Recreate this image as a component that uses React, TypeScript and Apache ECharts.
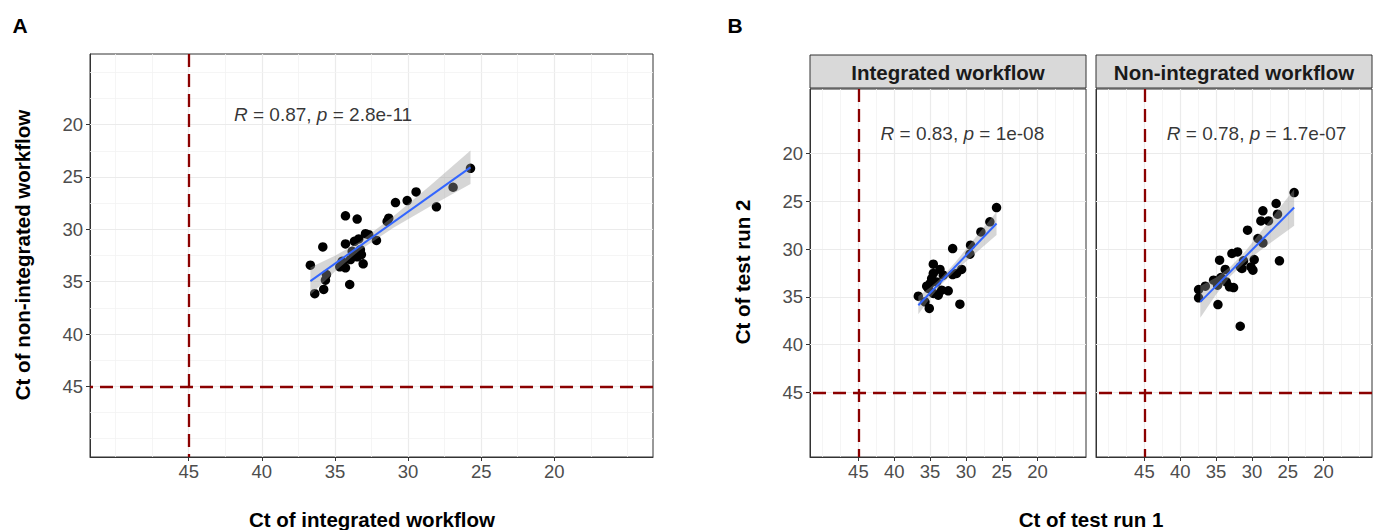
import React, { useEffect, useRef } from 'react';
import * as echarts from 'echarts';

// ---------- data ----------
const tickValues = [20, 25, 30, 35, 40, 45];
const majorGrid = [20, 25, 30, 35, 40, 45];
const minorGrid = [15, 17.5, 22.5, 27.5, 32.5, 37.5, 42.5, 47.5, 50];
const axisMin = 13.25;
const axisMax = 51.75;
const cutoff = 45;

// Panel A: integrated (x) vs non-integrated (y)
const aX = [25.73, 26.92, 29.45, 30.06, 30.86, 28.06, 31.32, 31.43, 34.28, 33.48, 32.69, 32.91, 32.16, 33.37, 33.67, 34.28, 35.83, 33.26, 33.19, 33.48, 33.94, 33.07, 34.44, 34.67, 34.28, 36.68, 35.58, 35.65, 33.99, 35.77, 36.38, 33.82, 34.51];
const aY = [24.17, 25.98, 26.43, 27.25, 27.44, 27.85, 28.93, 29.25, 28.71, 29.02, 30.51, 30.42, 31.06, 30.92, 31.15, 31.40, 31.68, 31.94, 32.41, 32.63, 32.89, 33.30, 33.37, 33.58, 33.68, 33.43, 34.32, 34.86, 35.27, 35.74, 36.15, 32.10, 33.05];
const aFitX = [36.68, 25.73];
const aFitY = [34.95, 24.08];
const aBandX = [36.68, 35, 33.3, 31, 28.5, 25.73];
const aBandLo = [33.65, 32.53, 31.19, 28.76, 25.83, 22.48];
const aBandHi = [36.25, 34.03, 31.99, 29.86, 27.83, 25.68];
const aStat = { R: '0.87', p: '2.8e-11', x: 41.94, y: 19.01 };

// Panel B, Integrated workflow: test run 1 (x) vs test run 2 (y)
const bX = [25.73, 26.66, 27.91, 29.35, 29.44, 31.85, 30.60, 34.55, 33.62, 34.55, 31.85, 34.78, 35.01, 35.25, 34.08, 33.39, 32.47, 36.64, 33.86, 34.55, 35.71, 35.11, 30.84, 35.47, 33.16, 31.30];
const bY = [25.65, 27.15, 28.20, 29.59, 30.53, 29.94, 32.13, 31.58, 32.13, 32.55, 32.66, 33.08, 33.60, 34.12, 33.43, 34.30, 34.37, 34.93, 34.82, 34.64, 35.52, 36.21, 35.76, 33.88, 32.73, 32.55];
const bFitX = [36.64, 25.73];
const bFitY = [35.87, 27.32];
const bBandX = [36.64, 35, 33.5, 31.5, 28.5, 25.73];
const bBandLo = [34.92, 34.03, 33.06, 31.39, 28.64, 26.12];
const bBandHi = [36.82, 35.13, 33.76, 32.29, 30.34, 28.52];
const bStat = { R: '0.83', p: '1e-08', x: 41.98, y: 17.88 };

// Panel B, Non-integrated workflow
const cX = [24.11, 26.62, 26.43, 28.47, 28.75, 27.69, 30.61, 29.16, 28.47, 32.79, 32.00, 34.51, 29.68, 29.86, 26.16, 31.17, 33.72, 31.63, 31.39, 34.32, 33.58, 34.79, 33.12, 32.56, 36.50, 37.44, 37.44, 34.74, 31.63, 30.14, 35.35];
const cY = [24.08, 25.23, 26.35, 26.00, 27.05, 27.05, 28.02, 28.89, 29.35, 30.46, 30.29, 31.16, 31.09, 32.21, 31.23, 31.23, 32.13, 31.86, 32.03, 32.97, 33.43, 33.78, 33.95, 34.02, 33.88, 34.23, 35.10, 35.80, 38.07, 31.86, 33.25];
const cFitX = [37.2, 24.11];
const cFitY = [35.52, 25.65];
const cBandX = [37.2, 35, 33, 31, 28, 24.11];
const cBandLo = [33.87, 32.96, 31.85, 30.30, 27.48, 23.75];
const cBandHi = [37.17, 34.76, 32.85, 31.40, 29.68, 27.55];
const cStat = { R: '0.78', p: '1.7e-07', x: 41.94, y: 17.88 };

const facetLabels = ['Integrated workflow', 'Non-integrated workflow'];

// ---------- styling ----------
const FONT = '"Liberation Sans", Arial, Helvetica, sans-serif';
const GRID_MAJOR = { color: '#EBEBEB', width: 1.2, type: 'solid' as const };
const GRID_MINOR = { color: '#F2F2F2', width: 0.8, type: 'solid' as const };

const grids = [
  { left: 90, top: 54, width: 563, height: 403 },
  { left: 810, top: 89, width: 276, height: 368 },
  { left: 1096, top: 89, width: 276, height: 368 },
];

function zip(xs: number[], ys: number[]) {
  return xs.map((x, i) => [x, ys[i]]);
}

function makeAxis(kind: 'x' | 'y', idx: number, showLabels = true) {
  return {
    gridIndex: idx,
    type: 'value',
    min: axisMin,
    max: axisMax,
    inverse: true,
    splitLine: { show: false },
    axisLine: { show: true, onZero: false, lineStyle: { color: '#333', width: 1 } },
    axisTick: { show: showLabels, customValues: tickValues, length: 4, lineStyle: { color: '#333', width: 1 } },
    axisLabel: {
      show: showLabels,
      customValues: tickValues,
      color: '#4D4D4D',
      fontSize: 18.5,
      fontFamily: FONT,
      margin: kind === 'x' ? 5 : 7,
    },
  };
}

function panelSeries(
  idx: number,
  xs: number[], ys: number[],
  fitX: number[], fitY: number[],
  bandX: number[], bandLo: number[], bandHi: number[],
  stat: { R: string; p: string; x: number; y: number },
  minorHorizontal: boolean,
) {
  const gridLines: any[] = [];
  majorGrid.forEach((v) => gridLines.push({ xAxis: v, lineStyle: GRID_MAJOR }));
  minorGrid.forEach((v) => gridLines.push({ xAxis: v, lineStyle: GRID_MINOR }));
  majorGrid.forEach((v) => gridLines.push({ yAxis: v, lineStyle: GRID_MAJOR }));
  if (minorHorizontal) minorGrid.forEach((v) => gridLines.push({ yAxis: v, lineStyle: GRID_MINOR }));

  const ax = { xAxisIndex: idx, yAxisIndex: idx };
  return [
    {
      type: 'line', ...ax, data: [], silent: true, z: 1,
      markLine: { z: 1, silent: true, symbol: ['none', 'none'], label: { show: false }, data: gridLines },
    },
    {
      type: 'scatter', ...ax, z: 2, symbolSize: 9.5, silent: true,
      itemStyle: { color: '#000000', opacity: 1 },
      data: zip(xs, ys),
    },
    {
      type: 'custom', ...ax, z: 3, silent: true,
      data: zip(bandX, bandLo),
      renderItem: (params: any, api: any) => {
        if (params.dataIndex !== 0) return null;
        const upper = bandX.map((x, i) => api.coord([x, bandHi[i]]));
        const lower = bandX.map((x, i) => api.coord([x, bandLo[i]])).reverse();
        return {
          type: 'polygon',
          shape: { points: upper.concat(lower) },
          style: { fill: 'rgba(153,153,153,0.4)', stroke: 'none' },
        };
      },
    },
    {
      type: 'line', ...ax, z: 4, silent: true, symbol: 'none',
      lineStyle: { color: '#3366FF', width: 2 },
      data: zip(fitX, fitY),
    },
    {
      type: 'line', ...ax, data: [], silent: true, z: 5,
      markLine: {
        z: 5, silent: true, symbol: ['none', 'none'], label: { show: false },
        lineStyle: { color: '#8B0000', width: 2.3, type: [13, 7] },
        data: [{ xAxis: cutoff }, { yAxis: cutoff }],
      },
    },
    {
      type: 'scatter', ...ax, z: 6, silent: true, symbolSize: 1,
      itemStyle: { color: 'rgba(0,0,0,0)' },
      data: [[stat.x, stat.y]],
      label: {
        show: true, position: 'right', distance: 0,
        formatter: `{i|R} = ${stat.R}, {i|p} = ${stat.p}`,
        color: '#000', fontSize: 19, fontFamily: FONT,
        rich: { i: { fontStyle: 'italic', fontSize: 19, fontFamily: FONT, color: '#000' } },
      },
    },
  ];
}

export default function App() {
  const ref = useRef<HTMLDivElement>(null);
  useEffect(() => {
    document.body.style.margin = '0';
    if (!ref.current) return;
    const chart = echarts.init(ref.current, undefined, { renderer: 'svg' });

    const strips: any[] = [];
    [1, 2].forEach((gi, k) => {
      const g = grids[gi];
      strips.push({
        type: 'rect', silent: true,
        shape: { x: g.left, y: 55, width: g.width, height: 33 },
        style: { fill: '#D9D9D9', stroke: '#333', lineWidth: 1 },
      });
      strips.push({
        type: 'text', silent: true,
        x: g.left + g.width / 2, y: 72,
        style: {
          text: facetLabels[k], fontSize: 20.5, fontWeight: 'bold', fontFamily: FONT,
          fill: '#1A1A1A', align: 'center', verticalAlign: 'middle',
        },
      });
    });

    const title = (text: string, x: number, y: number, rotate = false) => ({
      type: 'text', silent: true, x, y, rotation: rotate ? Math.PI / 2 : 0,
      style: {
        text, fontSize: 20.5, fontWeight: 'bold', fontFamily: FONT, fill: '#000',
        align: 'center', verticalAlign: 'middle',
      },
    });

    const option: any = {
      animation: false,
      backgroundColor: '#ffffff',
      grid: grids.map((g) => ({
        ...g, show: true, backgroundColor: '#ffffff', borderColor: '#333', borderWidth: 1, containLabel: false,
      })),
      xAxis: [0, 1, 2].map((i) => makeAxis('x', i)),
      yAxis: [0, 1, 2].map((i) => makeAxis('y', i, i !== 2)),
      series: [
        ...panelSeries(0, aX, aY, aFitX, aFitY, aBandX, aBandLo, aBandHi, aStat, true),
        ...panelSeries(1, bX, bY, bFitX, bFitY, bBandX, bBandLo, bBandHi, bStat, false),
        ...panelSeries(2, cX, cY, cFitX, cFitY, cBandX, cBandLo, cBandHi, cStat, false),
      ],
      graphic: [
        ...strips,
        title('Ct of integrated workflow', 372, 519),
        title('Ct of non-integrated workflow', 22, 255, true),
        title('Ct of test run 1', 1091, 519),
        title('Ct of test run 2', 742, 272, true),
        {
          type: 'text', silent: true, x: 20, y: 25,
          style: { text: 'A', fontSize: 21, fontWeight: 'bold', fontFamily: FONT, fill: '#000', align: 'center', verticalAlign: 'middle' },
        },
        {
          type: 'text', silent: true, x: 735, y: 25,
          style: { text: 'B', fontSize: 21, fontWeight: 'bold', fontFamily: FONT, fill: '#000', align: 'center', verticalAlign: 'middle' },
        },
      ],
    };
    chart.setOption(option);
    return () => chart.dispose();
  }, []);
  return <div ref={ref} style={{ width: 1374, height: 530 }} />;
}
